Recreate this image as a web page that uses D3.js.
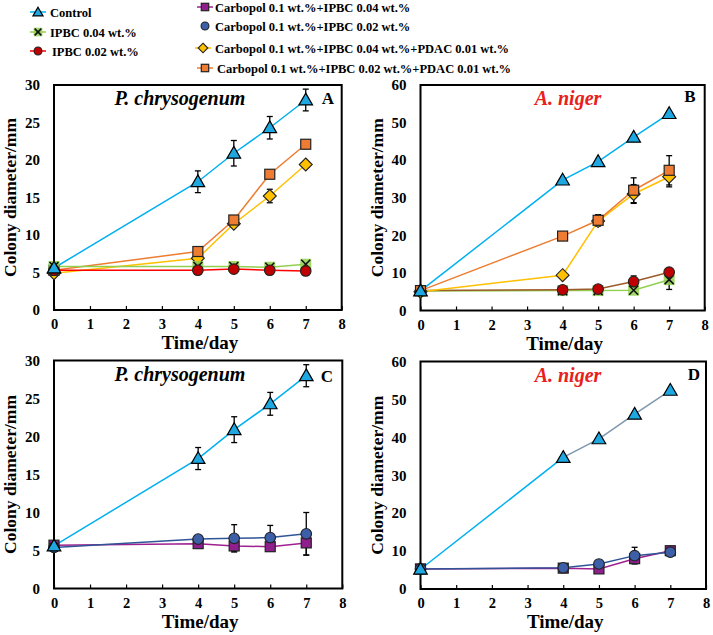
<!DOCTYPE html>
<html><head><meta charset="utf-8">
<script src="https://cdnjs.cloudflare.com/ajax/libs/d3/7.8.5/d3.min.js"></script>
<style>
html,body{margin:0;padding:0;background:#fff;}
svg{display:block;}
svg text{font-family:"Liberation Serif","Times New Roman",serif;}
</style></head>
<body><svg id="chart" width="713" height="635"></svg>
<script>
// ---------- data ----------
const days = [0, 4, 5, 6, 7];
const xTicks = [0, 1, 2, 3, 4, 5, 6, 7, 8];
const yTicksPC = [0, 5, 10, 15, 20, 25, 30];
const yTicksAN = [0, 10, 20, 30, 40, 50, 60];
const legendNames = [
  "Control", "IPBC 0.04 wt.%", "IPBC 0.02 wt.%",
  "Carbopol 0.1 wt.%+IPBC 0.04 wt.%", "Carbopol 0.1 wt.%+IPBC 0.02 wt.%",
  "Carbopol 0.1 wt.%+IPBC 0.04 wt.%+PDAC 0.01 wt.%",
  "Carbopol 0.1 wt.%+IPBC 0.02 wt.%+PDAC 0.01 wt.%"
];
const panelTitles = ["P. chrysogenum", "A. niger", "P. chrysogenum", "A. niger"];
const panelLetters = ["A", "B", "C", "D"];

// P. chrysogenum
const pcControl = [5.6, 17.1, 20.9, 24.3, 28.0];
const pcControlErr = [0, 1.45, 1.7, 1.5, 1.45];
const pcIPBC004 = [5.8, 5.8, 5.8, 5.7, 6.1];
const pcIPBC002 = [5.3, 5.3, 5.45, 5.3, 5.2];
const pcCarbPDAC004 = [4.9, 6.9, 11.5, 15.2, 19.4];
const pcCarbPDAC004Err = [0, 0, 0, 0.9, 0];
const pcCarbPDAC002 = [5.3, 7.8, 12.0, 18.1, 22.1];
const pcCarb004 = [5.7, 5.9, 5.6, 5.5, 6.0];
const pcCarb004Err = [0, 0, 0.7, 0, 1.6];
const pcCarb002 = [5.4, 6.5, 6.6, 6.7, 7.2];
const pcCarb002Err = [0, 0, 1.8, 1.6, 2.8];

// A. niger
const anControl = [5.2, 34.7, 39.6, 46.1, 52.4];
const anIPBC004 = [5.2, 5.3, 5.3, 5.4, 8.2];
const anIPBC004Err = [0, 0, 0, 0, 2.6];
const anIPBC002 = [5.3, 5.5, 5.7, 7.7, 10.2];
const anIPBC002Err = [0, 0, 0, 1.5, 0.5];
const anCarbPDAC004 = [5.0, 9.4, 23.8, 31.0, 35.6];
const anCarbPDAC004Err = [0, 0, 1.2, 2.5, 2.7];
const anCarbPDAC002 = [5.3, 19.8, 24.0, 32.0, 37.3];
const anCarbPDAC002Err = [0, 0, 1.5, 3.3, 3.9];
const anCarb004 = [5.3, 5.5, 5.3, 8.0, 10.1];
const anCarb002 = [5.3, 5.6, 6.6, 8.8, 9.7];
const anCarb002Err = [0, 0, 0, 2.2, 0.6];

// ---------- styles ----------
const FONT = "Liberation Serif";
const styles = {
  control: {line: "#00b0f0", fill: "#1ea7e1", shape: "triangle"},
  ipbc004: {line: "#92d050", fill: "#92d050", shape: "x"},
  ipbc002: {line: "#ff0000", fill: "#c00000", shape: "circle"},
  carb004: {line: "#a0208f", fill: "#8e1f8c", shape: "square"},
  carb002: {line: "#2f5597", fill: "#3d5fa8", shape: "circle"},
  pdac004: {line: "#ffc000", fill: "#ffc000", shape: "diamond"},
  pdac002: {line: "#ed7d31", fill: "#ee7d33", shape: "square"}
};
const legendKeys = ["control","ipbc004","ipbc002","carb004","carb002","pdac004","pdac002"];

const zeros = [0,0,0,0,0];
const panels = [
  {x0:54, x1:341.7, y0:85, y1:310, ymax:30, yt:yTicksPC, title:0, titleX:180, titleColor:"#000", letterX:328, letterY:104,
   series:[
     {k:"pdac004", v:pcCarbPDAC004, e:pcCarbPDAC004Err},
     {k:"pdac002", v:pcCarbPDAC002, e:zeros},
     {k:"ipbc004", v:pcIPBC004, e:zeros},
     {k:"ipbc002", v:pcIPBC002, e:zeros},
     {k:"control", v:pcControl, e:pcControlErr}]},
  {x0:420.5, x1:704.7, y0:85, y1:310.5, ymax:60, yt:yTicksAN, title:1, titleX:568, titleColor:"#e8201c", letterX:690, letterY:102,
   series:[
     {k:"ipbc004", v:anIPBC004, e:anIPBC004Err},
     {k:"ipbc002", v:anIPBC002, e:anIPBC002Err, lineColor:"#9c5a2a"},
     {k:"pdac004", v:anCarbPDAC004, e:anCarbPDAC004Err},
     {k:"pdac002", v:anCarbPDAC002, e:anCarbPDAC002Err},
     {k:"control", v:anControl, e:zeros}]},
  {x0:54, x1:342.3, y0:360.5, y1:588.5, ymax:30, yt:yTicksPC, title:2, titleX:180, titleColor:"#000", letterX:327, letterY:382,
   series:[
     {k:"carb004", v:pcCarb004, e:pcCarb004Err},
     {k:"carb002", v:pcCarb002, e:pcCarb002Err},
     {k:"control", v:pcControl, e:pcControlErr}]},
  {x0:420.5, x1:706, y0:361.5, y1:589, ymax:60, yt:yTicksAN, title:3, titleX:568, titleColor:"#e8201c", letterX:694, letterY:380,
   series:[
     {k:"carb004", v:anCarb004, e:zeros},
     {k:"carb002", v:anCarb002, e:anCarb002Err},
     {k:"control", v:anControl, e:zeros, lineColor2:"#7f97ad"}]}
];

const svg = d3.select("#chart");

function drawMarker(g, shape, cx, cy, fill, scale) {
  scale = scale || 1;
  if (shape === "triangle") {
    g.append("path").attr("d", d3.symbol(d3.symbolTriangle, 80*scale)())
      .attr("transform", `translate(${cx},${cy+1})`).attr("fill", fill).attr("stroke", "#000").attr("stroke-width", 1.2);
  } else if (shape === "square") {
    const s = 10*Math.sqrt(scale);
    g.append("rect").attr("x", cx-s/2).attr("y", cy-s/2).attr("width", s).attr("height", s)
      .attr("fill", fill).attr("stroke", "#222").attr("stroke-width", 1.2);
  } else if (shape === "circle") {
    g.append("circle").attr("cx", cx).attr("cy", cy).attr("r", 5.3*Math.sqrt(scale))
      .attr("fill", fill).attr("stroke", "#222").attr("stroke-width", 1.1);
  } else if (shape === "diamond") {
    const s = 6.5*Math.sqrt(scale);
    g.append("path").attr("d", `M${cx},${cy-s}L${cx+s},${cy}L${cx},${cy+s}L${cx-s},${cy}Z`)
      .attr("fill", fill).attr("stroke", "#222").attr("stroke-width", 1.1);
  } else if (shape === "x") {
    const s = 4.5*Math.sqrt(scale);
    g.append("rect").attr("x", cx-s-1).attr("y", cy-s-1).attr("width", 2*s+2).attr("height", 2*s+2)
      .attr("fill", fill).attr("opacity", 0.85);
    g.append("path").attr("d", `M${cx-s},${cy-s}L${cx+s},${cy+s}M${cx-s},${cy+s}L${cx+s},${cy-s}`)
      .attr("stroke", "#111").attr("stroke-width", 1.6);
  }
}

panels.forEach((p, pi) => {
  const x = d3.scaleLinear().domain([0, 8]).range([p.x0, p.x1]);
  const y = d3.scaleLinear().domain([0, p.ymax]).range([p.y1, p.y0]);
  const g = svg.append("g");

  // frame
  g.append("rect").attr("x", p.x0).attr("y", p.y0).attr("width", p.x1 - p.x0).attr("height", p.y1 - p.y0)
    .attr("fill", "none").attr("stroke", "#000").attr("stroke-width", 2);

  // x axis
  const xa = g.append("g").attr("transform", `translate(0,${p.y1})`)
    .call(d3.axisBottom(x).tickValues(xTicks).tickSize(-4).tickPadding(6).tickFormat(d3.format("d")));
  xa.attr("font-family", FONT);
  xa.select(".domain").remove();
  xa.selectAll("line").attr("stroke", "#000").attr("stroke-width", 1.2);
  xa.selectAll("text").attr("font-size", 14.5).attr("font-weight", "bold").attr("fill", "#000")
    .attr("font-family", FONT).attr("dy", "0.9em");

  // y axis
  const ya = g.append("g").attr("transform", `translate(${p.x0},0)`)
    .call(d3.axisLeft(y).tickValues(p.yt).tickSize(0).tickPadding(14).tickFormat(d3.format("d")));
  ya.attr("font-family", FONT);
  ya.select(".domain").remove();
  ya.selectAll("text").attr("font-size", 15).attr("font-weight", "bold").attr("fill", "#000")
    .attr("font-family", FONT);

  // axis titles
  g.append("text").attr("x", (p.x0 + p.x1) / 2 + 2).attr("y", p.y1 + 39).attr("text-anchor", "middle")
    .attr("font-family", FONT).attr("font-size", 19).attr("font-weight", "bold").text("Time/day");
  g.append("text").attr("transform", `translate(${p.x0 - 38},${(p.y0 + p.y1) / 2}) rotate(-90)`)
    .attr("font-family", FONT).attr("text-anchor", "middle").attr("font-size", 17.5).attr("font-weight", "bold")
    .text("Colony diameter/mm");

  // titles
  g.append("text").attr("x", p.titleX).attr("y", p.y0 + 20).attr("text-anchor", "middle")
    .attr("font-family", FONT).attr("font-size", 20).attr("font-weight", "bold").attr("font-style", "italic")
    .attr("fill", p.titleColor).text(panelTitles[p.title]);
  g.append("text").attr("x", p.letterX).attr("y", p.letterY).attr("text-anchor", "middle")
    .attr("font-family", FONT).attr("font-size", 17).attr("font-weight", "bold").text(panelLetters[pi]);

  // lines
  p.series.forEach(s => {
    const st = styles[s.k];
    const pts = days.map((d, i) => [x(d), y(s.v[i])]);
    if (s.lineColor2) {
      g.append("path").attr("d", d3.line()(pts.slice(0, 2))).attr("fill", "none").attr("stroke", st.line).attr("stroke-width", 1.5);
      g.append("path").attr("d", d3.line()(pts.slice(1))).attr("fill", "none").attr("stroke", s.lineColor2).attr("stroke-width", 1.5);
    } else {
      g.append("path").attr("d", d3.line()(pts)).attr("fill", "none")
        .attr("stroke", s.lineColor || st.line).attr("stroke-width", 1.5);
    }
  });
  // error bars
  p.series.forEach(s => {
    days.forEach((d, i) => {
      const e = s.e[i];
      if (!e) return;
      const cx = x(d), top = y(s.v[i] + e), bot = y(s.v[i] - e);
      g.append("line").attr("x1", cx).attr("x2", cx).attr("y1", top).attr("y2", bot).attr("stroke", "#000").attr("stroke-width", 1.3);
      g.append("line").attr("x1", cx - 3).attr("x2", cx + 3).attr("y1", top).attr("y2", top).attr("stroke", "#000").attr("stroke-width", 1.3);
      g.append("line").attr("x1", cx - 3).attr("x2", cx + 3).attr("y1", bot).attr("y2", bot).attr("stroke", "#000").attr("stroke-width", 1.3);
    });
  });
  // markers
  p.series.forEach(s => {
    const st = styles[s.k];
    days.forEach((d, i) => drawMarker(g, st.shape, x(d), y(s.v[i]), st.fill));
  });
});

// legend
const legendPos = [
  {x: 38, y: 12, tx: 50}, {x: 38, y: 32, tx: 50}, {x: 38, y: 51, tx: 52},
  {x: 205, y: 7, tx: 215}, {x: 205, y: 26, tx: 215}, {x: 203, y: 48, tx: 215}, {x: 205, y: 68, tx: 217}
];
const lg = svg.append("g");
legendKeys.forEach((k, i) => {
  const st = styles[k], p = legendPos[i];
  if (k !== "carb002") {
    lg.append("line").attr("x1", p.x - 8).attr("x2", p.x + 8).attr("y1", p.y).attr("y2", p.y)
      .attr("stroke", st.line).attr("stroke-width", 1.5);
  }
  drawMarker(lg, st.shape, p.x, p.y, st.fill, 0.55);
  lg.append("text").attr("x", p.tx).attr("y", p.y + 4.5).attr("font-family", FONT)
    .attr("font-size", 12.5).attr("font-weight", "bold").text(legendNames[i]);
});
</script></body></html>
